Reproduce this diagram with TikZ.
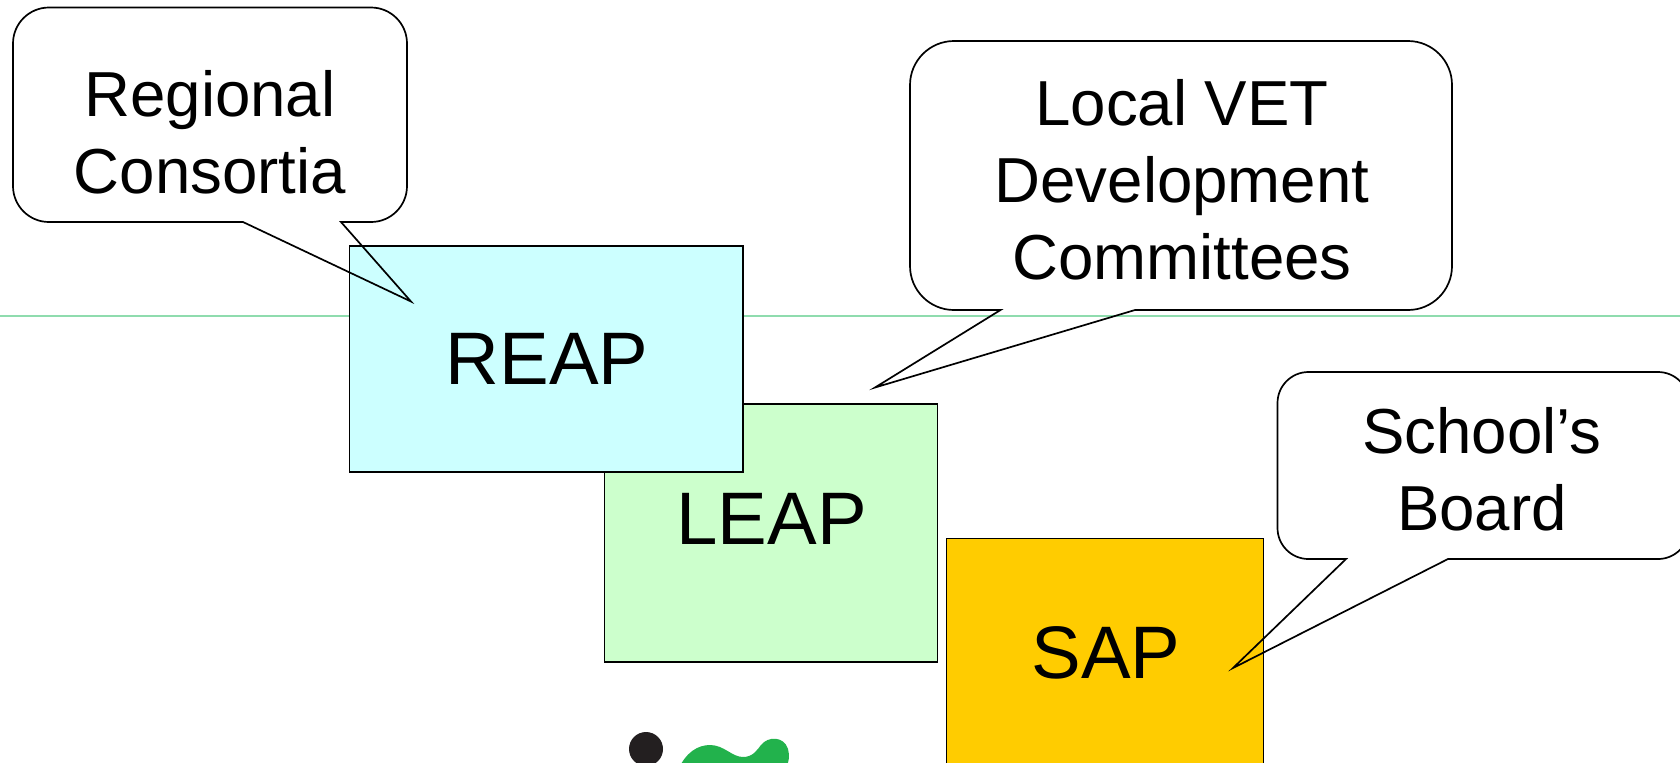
\documentclass[tikz,border=0pt]{standalone}
\usepackage{fontspec}
\setmainfont{Liberation Sans}
\definecolor{rulegreen}{HTML}{8FDCAE}
\definecolor{reapfill}{HTML}{CCFFFF}
\definecolor{leapfill}{HTML}{CCFFCC}
\definecolor{sapfill}{HTML}{FFCC00}
\definecolor{blobgreen}{HTML}{22B24C}
\definecolor{blobblack}{HTML}{231F20}
\tikzset{
  planbox/.style={draw=black,line width=0.85pt,inner sep=0pt,outer sep=0pt},
  planlabel/.style={font=\fontsize{37.2}{40}\selectfont,inner sep=0pt},
  callouttext/.style={font=\fontsize{31.8}{38.5}\selectfont,align=center,inner sep=0pt},
  calloutline/.style={draw=black,line width=0.85pt,line join=miter}
}
\begin{document}
\begin{tikzpicture}[x=0.5pt,y=-0.5pt]
\useasboundingbox (0,0) rectangle (1680,762);
\clip (0,0) rectangle (1680,762);
\fill[white] (0,0) rectangle (1680,762);
% horizontal rule
\coordinate (ruleL) at (0,316);
\coordinate (ruleR) at (1680,316);
\draw[rulegreen,line width=0.65pt] (ruleL) -- (ruleR);
% logo fragment
\fill[blobblack] (646,749) circle (17);
\fill[blobgreen] (678,770) .. controls (686,752) and (698,745) .. (710,745)
  .. controls (724,745) and (732,757) .. (743,757)
  .. controls (753,757) and (757,750) .. (761,745)
  .. controls (768,736) and (784,736) .. (788,749)
  .. controls (790,756) and (789,762) .. (785,770) -- cycle;
% plan boxes
\node[planbox,fill=leapfill,minimum width=166.5pt,minimum height=129pt] (leap) at (771,533) {};
\node[planbox,fill=reapfill,minimum width=196.75pt,minimum height=113pt] (reap) at (546.25,359) {};
\node[planbox,fill=sapfill,minimum width=158.5pt,minimum height=150pt] (sap) at (1105,688.5) {};
\node[planlabel] (reaplabel) at (547,358.5) {REAP};
\node[planlabel] (leaplabel) at (771.5,518.5) {LEAP};
\node[planlabel] (saplabel) at (1106,653) {SAP};
% callouts
\draw[calloutline] (341,222) [rounded corners=18pt] -- (407,222) -- (407,7.5) -- (13,7.5) -- (13,222) [sharp corners] -- (243,222) -- (411,301.5) -- cycle;
\draw[calloutline] (1135,310) [rounded corners=22pt] -- (1452,310) -- (1452,41) -- (910,41) -- (910,310) [sharp corners] -- (1000.5,310) -- (875,387.5) -- cycle;
\draw[calloutline] (1448,559) [rounded corners=15.5pt] -- (1689,559) -- (1689,372) -- (1277.5,372) -- (1277.5,559) [sharp corners] -- (1346,559) -- (1233,668) -- cycle;
\node[callouttext] (regional) at (210,132) {Regional\\Consortia};
\node[callouttext] (localvet) at (1182,180) {Local VET\\Development\\Committees};
\node[callouttext] (school) at (1482,469.5) {School’s\\Board};
\end{tikzpicture}
\end{document}
